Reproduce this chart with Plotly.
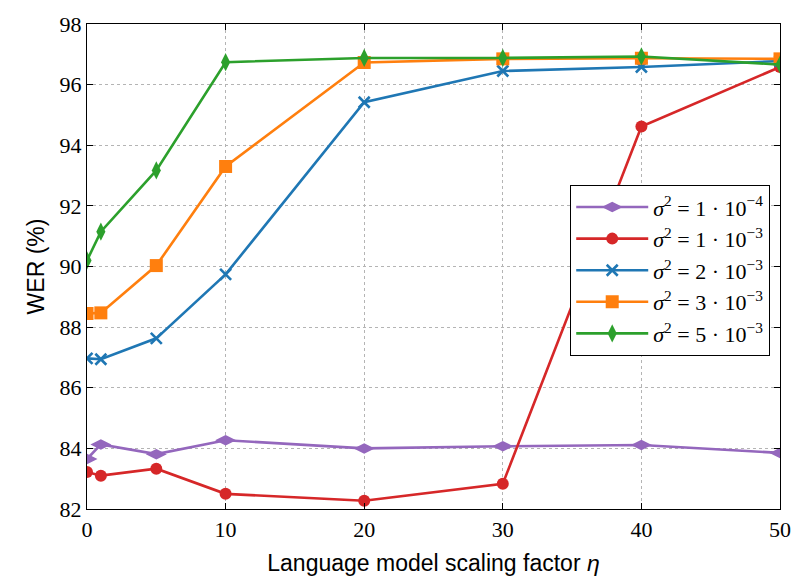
import plotly.graph_objects as go

eta = [0, 1, 5, 10, 20, 30, 40, 50]
wer_1e4 = [83.65, 84.13, 83.81, 84.27, 84.0, 84.07, 84.11, 83.85]
wer_1e3 = [83.22, 83.1, 83.33, 82.5, 82.27, 82.83, 94.62, 96.58]
wer_2e3 = [86.97, 86.94, 87.63, 89.74, 95.42, 96.45, 96.58, 96.78]
wer_3e3 = [88.45, 88.47, 90.03, 93.3, 96.73, 96.85, 96.87, 96.85]
wer_5e3 = [90.2, 91.15, 93.17, 96.74, 96.88, 96.88, 96.93, 96.66]

labels = [
    "<i>σ</i><sup>2</sup> = 1 · 10<sup>−4</sup>",
    "<i>σ</i><sup>2</sup> = 1 · 10<sup>−3</sup>",
    "<i>σ</i><sup>2</sup> = 2 · 10<sup>−3</sup>",
    "<i>σ</i><sup>2</sup> = 3 · 10<sup>−3</sup>",
    "<i>σ</i><sup>2</sup> = 5 · 10<sup>−3</sup>",
]
series = [wer_1e4, wer_1e3, wer_2e3, wer_3e3, wer_5e3]
colors = ["#9467bd", "#d62728", "#1f77b4", "#ff7f0e", "#2ca02c"]
symbols = ["diamond-wide", "circle", "x-thin", "square", "diamond-tall"]
sizes = [15, 12, 11, 13, 13]

fig = go.Figure()
for lab, ys, c, s, sz in zip(labels, series, colors, symbols, sizes):
    fig.add_trace(go.Scatter(
        x=eta, y=ys, name=lab, mode="lines+markers",
        line=dict(color=c, width=2.6),
        marker=dict(symbol=s, size=sz, color=c,
                    line=dict(color=c, width=2.6 if s == "x-thin" else 0)),
    ))

tickfont = dict(family="Liberation Serif, DejaVu Serif, serif", size=22, color="black")
axis_common = dict(
    showline=True, linecolor="black", linewidth=1.2, mirror="allticks",
    ticks="inside", ticklen=6, tickcolor="black",
    showgrid=True, gridcolor="#b4b4b4", griddash="dot", gridwidth=1.2,
    zeroline=False, tickfont=tickfont, automargin=False,
)

fig.update_layout(
    width=795, height=579,
    margin=dict(l=87, r=15, t=24, b=70),
    plot_bgcolor="white", paper_bgcolor="white",
    xaxis=dict(range=[0, 50], tickvals=[0, 10, 20, 30, 40, 50],
               title=dict(text="Language model scaling factor <i>η</i>",
                          font=dict(family="Liberation Sans Narrow, Liberation Sans, sans-serif", size=23, color="black"),
                          standoff=14),
               **axis_common),
    yaxis=dict(range=[82, 98], tickvals=list(range(82, 99, 2)),
               title=dict(text="WER (%)",
                          font=dict(family="Liberation Sans Narrow, Liberation Sans, sans-serif", size=23, color="black"),
                          standoff=8),
               **axis_common),
    legend=dict(x=0.9856, y=0.668, xanchor="right", yanchor="top",
                bordercolor="black", borderwidth=1.2, bgcolor="white",
                font=dict(family="Liberation Serif, DejaVu Serif, serif", size=22, color="black"),
                itemwidth=72, tracegroupgap=0),
    showlegend=True,
)

fig.write_html("out.html")
